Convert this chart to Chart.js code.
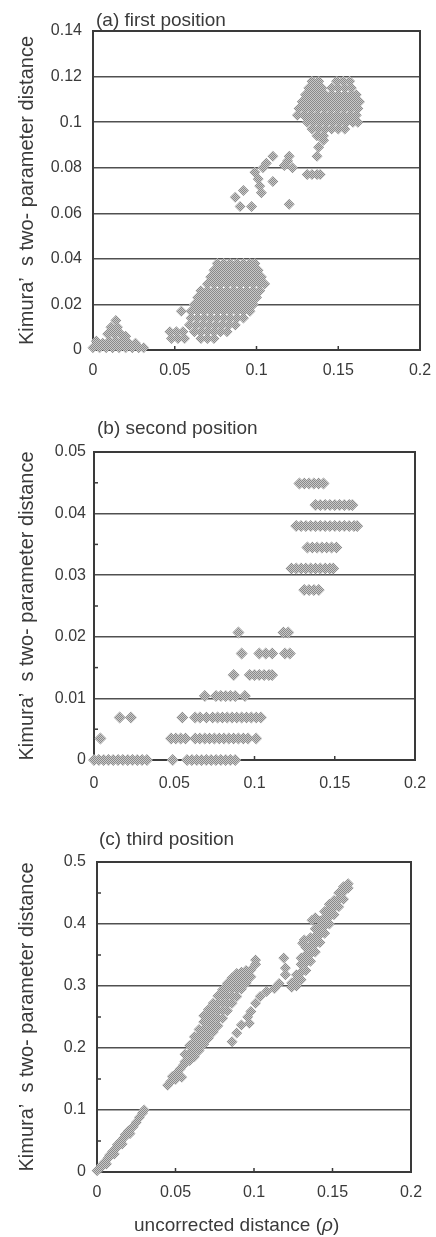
<!DOCTYPE html>
<html lang="en">
<head>
<meta charset="UTF-8" />
<title>Kimura two-parameter distance vs uncorrected distance</title>
<script src="https://cdn.jsdelivr.net/npm/chart.js"></script>
<style>
  * { margin: 0; padding: 0; box-sizing: border-box; }
  body {
    width: 436px;
    height: 1237px;
    background: #fff;
    position: relative;
    overflow: hidden;
    font-family: 'Liberation Sans', Arial, sans-serif;
    color: #3a3a3a;
  }
  .panel { position: absolute; left: 0; width: 436px; }
  .panel canvas { display: block; }
  .caption { position: absolute; font-size: 19px; line-height: 20px; white-space: nowrap; }
</style>
</head>
<body>
  <div class="panel" style="top:0;height:400px"><canvas id="chartA"></canvas></div>
  <div class="panel" style="top:420px;height:400px"><canvas id="chartB"></canvas></div>
  <div class="panel" style="top:830px;height:407px"><canvas id="chartC"></canvas></div>

  <div class="caption" style="left:96px;top:10px">(a) first position</div>
  <div class="caption" style="left:97px;top:418px">(b) second position</div>
  <div class="caption" style="left:99px;top:829px">(c) third position</div>
  <div class="caption" style="left:134px;top:1215px">uncorrected distance (<i>ρ</i>)</div>

<script>
  // ---- shared axis ticks ----
  const xTickValues = [0, 0.05, 0.1, 0.15, 0.2];
  const xTickLabels = ['0', '0.05', '0.1', '0.15', '0.2'];
  const yTitle = 'Kimura’  s two- parameter distance';

  // ---- (a) first position ----
  const aTickValues = [0, 0.02, 0.04, 0.06, 0.08, 0.1, 0.12, 0.14];
  const aTickLabels = ['0', '0.02', '0.04', '0.06', '0.08', '0.1', '0.12', '0.14'];
  const aMinor = [];

  const aNearZero = [
    [0.000, 0.001], [0.004, 0.001], [0.008, 0.001], [0.012, 0.001], [0.016, 0.001],
    [0.020, 0.001], [0.024, 0.001], [0.028, 0.001], [0.031, 0.001],
    [0.002, 0.004], [0.006, 0.003], [0.010, 0.004], [0.014, 0.004], [0.018, 0.004],
    [0.022, 0.003], [0.026, 0.003],
    [0.009, 0.007], [0.013, 0.007], [0.017, 0.007], [0.020, 0.006],
    [0.011, 0.010], [0.015, 0.010], [0.014, 0.013]
  ];

  // low cluster, row by row: y level and the x values on it
  const aLowLevels = [0.038, 0.035, 0.032, 0.029, 0.026, 0.023, 0.020, 0.017, 0.014, 0.011, 0.008, 0.005];
  const aLowXs = [
    [0.076, 0.080, 0.084, 0.088, 0.092, 0.096, 0.099],
    [0.074, 0.078, 0.082, 0.086, 0.090, 0.094, 0.098, 0.101],
    [0.072, 0.076, 0.080, 0.084, 0.088, 0.092, 0.096, 0.100, 0.103],
    [0.070, 0.074, 0.078, 0.082, 0.086, 0.090, 0.094, 0.098, 0.102, 0.105],
    [0.066, 0.070, 0.074, 0.078, 0.082, 0.086, 0.090, 0.094, 0.098, 0.102],
    [0.064, 0.068, 0.072, 0.076, 0.080, 0.084, 0.088, 0.092, 0.096, 0.100],
    [0.062, 0.066, 0.070, 0.074, 0.078, 0.082, 0.086, 0.090, 0.094, 0.098],
    [0.054, 0.060, 0.064, 0.068, 0.072, 0.076, 0.080, 0.084, 0.088, 0.092, 0.096],
    [0.060, 0.064, 0.068, 0.072, 0.076, 0.080, 0.084, 0.088, 0.092],
    [0.059, 0.063, 0.067, 0.071, 0.075, 0.079, 0.083, 0.087],
    [0.047, 0.051, 0.055, 0.062, 0.066, 0.070, 0.074, 0.078, 0.082],
    [0.048, 0.052, 0.056, 0.066, 0.070, 0.074]
  ];

  const aMidScatter = [
    [0.087, 0.067], [0.090, 0.063], [0.092, 0.070], [0.097, 0.063], [0.099, 0.078],
    [0.101, 0.075], [0.102, 0.072], [0.103, 0.069], [0.104, 0.080], [0.106, 0.082],
    [0.110, 0.085], [0.110, 0.074], [0.117, 0.081], [0.119, 0.083], [0.120, 0.085],
    [0.122, 0.080], [0.120, 0.064], [0.131, 0.077], [0.134, 0.077], [0.137, 0.077],
    [0.139, 0.077], [0.137, 0.085], [0.138, 0.089], [0.141, 0.092]
  ];

  const aHighLevels = [0.118, 0.115, 0.112, 0.109, 0.106, 0.103, 0.100, 0.097, 0.094];
  const aHighXs = [
    [0.134, 0.138, 0.149, 0.153, 0.157],
    [0.132, 0.136, 0.140, 0.146, 0.150, 0.154, 0.158],
    [0.130, 0.134, 0.138, 0.142, 0.146, 0.150, 0.154, 0.158, 0.161],
    [0.128, 0.132, 0.136, 0.140, 0.144, 0.148, 0.152, 0.156, 0.160, 0.163],
    [0.126, 0.130, 0.134, 0.138, 0.142, 0.146, 0.150, 0.154, 0.158, 0.162],
    [0.125, 0.129, 0.133, 0.137, 0.141, 0.145, 0.149, 0.153, 0.157, 0.161],
    [0.131, 0.135, 0.139, 0.143, 0.147, 0.151, 0.155, 0.159, 0.162],
    [0.134, 0.138, 0.142, 0.146, 0.150, 0.154],
    [0.137, 0.141]
  ];

  // ---- (b) second position: values fall on discrete levels ----
  const bTickValues = [0, 0.01, 0.02, 0.03, 0.04, 0.05];
  const bTickLabels = ['0', '0.01', '0.02', '0.03', '0.04', '0.05'];
  const bMinor = [0.005, 0.015, 0.025, 0.035, 0.045];
  const bLevels = [0, 0.0035, 0.0069, 0.0104, 0.0138, 0.0173, 0.0207, 0.0276, 0.0311, 0.0345, 0.038, 0.0414, 0.0449];
  const bXs = [
    [0.000, 0.003, 0.006, 0.009, 0.012, 0.015, 0.018, 0.021, 0.024, 0.027, 0.030, 0.033,
     0.049, 0.058, 0.061, 0.064, 0.067, 0.070, 0.073, 0.076, 0.079, 0.082, 0.085, 0.088],
    [0.004, 0.048, 0.051, 0.054, 0.057, 0.063, 0.066, 0.069, 0.072, 0.075, 0.078, 0.081,
     0.084, 0.087, 0.090, 0.093, 0.096, 0.101],
    [0.016, 0.023, 0.055, 0.063, 0.066, 0.070, 0.074, 0.077, 0.080, 0.083, 0.086, 0.089,
     0.092, 0.095, 0.098, 0.101, 0.104],
    [0.069, 0.076, 0.079, 0.082, 0.085, 0.088, 0.094],
    [0.087, 0.097, 0.100, 0.103, 0.106, 0.109, 0.111],
    [0.092, 0.103, 0.107, 0.111, 0.119, 0.122],
    [0.090, 0.118, 0.121],
    [0.131, 0.134, 0.137, 0.140],
    [0.123, 0.126, 0.129, 0.132, 0.135, 0.138, 0.141, 0.144, 0.147, 0.149],
    [0.133, 0.136, 0.139, 0.142, 0.145, 0.148, 0.151],
    [0.126, 0.129, 0.132, 0.135, 0.138, 0.141, 0.144, 0.147, 0.150, 0.153, 0.156, 0.159, 0.162, 0.164],
    [0.138, 0.141, 0.144, 0.147, 0.150, 0.153, 0.156, 0.159, 0.161],
    [0.128, 0.131, 0.134, 0.137, 0.140, 0.143]
  ];

  // ---- (c) third position ----
  const cTickValues = [0, 0.1, 0.2, 0.3, 0.4, 0.5];
  const cTickLabels = ['0', '0.1', '0.2', '0.3', '0.4', '0.5'];
  const cMinor = [0.05, 0.15, 0.25, 0.35, 0.45];

  const cLowLine = [
    [0.000, 0.002], [0.002, 0.006], [0.003, 0.011], [0.005, 0.016], [0.006, 0.013],
    [0.007, 0.022], [0.008, 0.027], [0.010, 0.033], [0.011, 0.029], [0.012, 0.038],
    [0.013, 0.044], [0.015, 0.049], [0.016, 0.045], [0.017, 0.055], [0.018, 0.060],
    [0.020, 0.066], [0.021, 0.062], [0.023, 0.073], [0.025, 0.080], [0.027, 0.088],
    [0.029, 0.095], [0.030, 0.100]
  ];

  const cLeftStart = [
    [0.045, 0.140], [0.047, 0.146], [0.048, 0.154], [0.050, 0.149],
    [0.051, 0.160], [0.053, 0.166], [0.054, 0.153], [0.055, 0.172]
  ];

  // left band, column by column: x value and the y values on it
  const cLeftCols = [0.056, 0.059, 0.062, 0.065, 0.068, 0.071, 0.074, 0.077, 0.080, 0.083, 0.086, 0.089, 0.092, 0.095, 0.098, 0.101];
  const cLeftYs = [
    [0.178, 0.190],
    [0.180, 0.192, 0.204],
    [0.186, 0.198, 0.210, 0.218],
    [0.196, 0.208, 0.220, 0.230],
    [0.206, 0.218, 0.230, 0.242, 0.252],
    [0.216, 0.228, 0.240, 0.252, 0.262],
    [0.226, 0.238, 0.250, 0.262, 0.272],
    [0.236, 0.248, 0.260, 0.272, 0.284],
    [0.248, 0.260, 0.272, 0.284, 0.294],
    [0.260, 0.272, 0.284, 0.296, 0.304],
    [0.272, 0.284, 0.296, 0.306, 0.313],
    [0.283, 0.295, 0.306, 0.315, 0.320],
    [0.295, 0.306, 0.316, 0.322],
    [0.305, 0.316, 0.325],
    [0.315, 0.326],
    [0.335, 0.342]
  ];

  const cScatter = [
    [0.086, 0.210], [0.089, 0.224], [0.092, 0.237], [0.097, 0.240], [0.096, 0.250],
    [0.098, 0.259], [0.101, 0.272], [0.104, 0.283], [0.108, 0.291], [0.113, 0.296],
    [0.116, 0.304], [0.120, 0.318], [0.120, 0.329], [0.119, 0.345], [0.131, 0.369],
    [0.132, 0.374], [0.137, 0.406], [0.139, 0.410]
  ];

  const cRightCols = [0.124, 0.127, 0.130, 0.133, 0.136, 0.139, 0.142, 0.145, 0.148, 0.151, 0.154, 0.157, 0.160];
  const cRightYs = [
    [0.298, 0.305],
    [0.300, 0.310, 0.318],
    [0.310, 0.322, 0.335, 0.345],
    [0.325, 0.338, 0.350, 0.362],
    [0.340, 0.352, 0.365, 0.378],
    [0.355, 0.368, 0.380, 0.392],
    [0.370, 0.383, 0.395, 0.405],
    [0.385, 0.397, 0.410, 0.420],
    [0.400, 0.412, 0.424, 0.432],
    [0.415, 0.427, 0.438],
    [0.428, 0.440, 0.450],
    [0.440, 0.452, 0.460],
    [0.458, 0.465]
  ];

  // ---- helpers ----
  const pairs = list => list.map(([x, y]) => ({ x, y }));
  const rows = (levels, xs) => levels.flatMap((y, i) => xs[i].map(x => ({ x, y })));
  const cols = (xsAt, ys) => xsAt.flatMap((x, i) => ys[i].map(y => ({ x, y })));

  // halftone-looking grey fill for the diamonds
  function dither() {
    const c = document.createElement('canvas');
    c.width = 2; c.height = 2;
    const g = c.getContext('2d');
    g.fillStyle = '#c8c8c8'; g.fillRect(0, 0, 2, 2);
    g.fillStyle = '#8a8a8a'; g.fillRect(0, 0, 1, 1); g.fillRect(1, 1, 1, 1);
    return g.createPattern(c, 'repeat');
  }
  const dots = dither();

  // box around the plot plus the short inward tick marks
  const frame = {
    id: 'frame',
    beforeDatasetsDraw(chart, args, opts) {
      const { ctx, chartArea: a, scales } = chart;
      ctx.save();
      ctx.strokeStyle = '#3a3a3a';
      ctx.lineWidth = 1.5;
      xTickValues.forEach(v => {
        const px = scales.x.getPixelForValue(v);
        ctx.beginPath(); ctx.moveTo(px, a.bottom); ctx.lineTo(px, a.bottom - 4); ctx.stroke();
      });
      (opts.minor || []).forEach(v => {
        const py = scales.y.getPixelForValue(v);
        ctx.beginPath(); ctx.moveTo(a.left, py); ctx.lineTo(a.left + 4, py); ctx.stroke();
      });
      ctx.lineWidth = 2;
      ctx.strokeRect(a.left, a.top, a.right - a.left, a.bottom - a.top);
      ctx.restore();
    }
  };

  function makePanel(id, points, p) {
    return new Chart(document.getElementById(id), {
      type: 'scatter',
      data: {
        datasets: [{
          data: points,
          pointStyle: 'rectRot',
          pointRadius: p.r,
          pointHoverRadius: p.r,
          backgroundColor: dots,
          borderWidth: 0,
          clip: false
        }]
      },
      options: {
        responsive: true,
        maintainAspectRatio: false,
        animation: false,
        events: [],
        layout: { padding: { top: p.top, right: 436 - p.right, left: 0, bottom: 0 } },
        plugins: {
          legend: { display: false },
          tooltip: { enabled: false },
          frame: { minor: p.minor }
        },
        scales: {
          x: {
            type: 'linear',
            min: 0,
            max: 0.2,
            afterBuildTicks: s => { s.ticks = xTickValues.map(value => ({ value })); },
            afterFit: s => { s.height = p.height - p.bottom; },
            grid: { display: false },
            border: { display: false },
            ticks: {
              padding: p.xPad,
              color: '#3a3a3a',
              font: { family: "'Liberation Sans', Arial, sans-serif", size: 16 },
              callback: (v, i) => xTickLabels[i]
            }
          },
          y: {
            min: 0,
            max: p.yValues[p.yValues.length - 1],
            afterBuildTicks: s => { s.ticks = p.yValues.map(value => ({ value })); },
            afterFit: s => { s.width = p.left; },
            grid: { color: '#505050', lineWidth: 1.5, drawTicks: false },
            border: { display: false },
            ticks: {
              padding: p.tickPad,
              color: '#3a3a3a',
              font: { family: "'Liberation Sans', Arial, sans-serif", size: 16 },
              callback: (v, i) => p.yLabels[i]
            },
            title: {
              display: true,
              text: yTitle,
              color: '#3a3a3a',
              padding: { top: 15, bottom: 0 },
              font: { family: "'Liberation Sans', Arial, sans-serif", size: 20 }
            }
          }
        }
      },
      plugins: [frame]
    });
  }

  makePanel('chartA',
    [...pairs(aNearZero), ...rows(aLowLevels, aLowXs), ...pairs(aMidScatter), ...rows(aHighLevels, aHighXs)],
    { r: 5.5, top: 31, bottom: 350, left: 93, right: 420, height: 400, tickPad: 11, xPad: 3,
      yValues: aTickValues, yLabels: aTickLabels, minor: aMinor });

  makePanel('chartB',
    rows(bLevels, bXs),
    { r: 6, top: 32, bottom: 340, left: 94, right: 415, height: 400, tickPad: 8, xPad: 6,
      yValues: bTickValues, yLabels: bTickLabels, minor: bMinor });

  makePanel('chartC',
    [...pairs(cLowLine), ...pairs(cLeftStart), ...cols(cLeftCols, cLeftYs), ...pairs(cScatter), ...cols(cRightCols, cRightYs)],
    { r: 5.5, top: 32, bottom: 342, left: 97, right: 411, height: 407, tickPad: 11, xPad: 3,
      yValues: cTickValues, yLabels: cTickLabels, minor: cMinor });
</script>
</body>
</html>
